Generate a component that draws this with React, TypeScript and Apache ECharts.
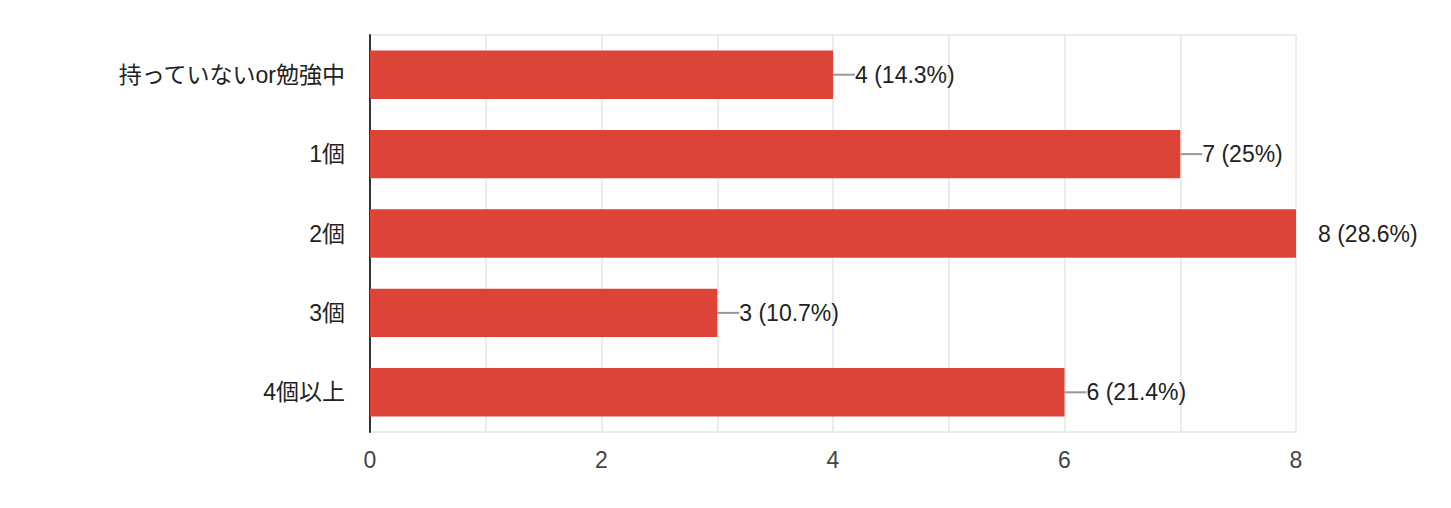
import React, { useEffect, useRef } from "react";
import * as echarts from "echarts";

const categories = ["持っていないor勉強中", "1個", "2個", "3個", "4個以上"];
const counts = [4, 7, 8, 3, 6];
const percents = ["14.3%", "25%", "28.6%", "10.7%", "21.4%"];
const xTicks = [0, 2, 4, 6, 8];

const FONT = '"Liberation Sans", Arial, "Noto Sans CJK JP", sans-serif';

export default function App() {
  const ref = useRef<HTMLDivElement>(null);
  useEffect(() => {
    if (!ref.current) return;
    const chart = echarts.init(ref.current, undefined, { renderer: "svg" });
    const maxVal = Math.max(...counts);
    chart.setOption({
      animation: false,
      grid: {
        left: 370,
        right: 155,
        top: 35,
        bottom: 76,
        containLabel: false,
        show: true,
        borderColor: "#ececec",
        borderWidth: 2,
      },
      xAxis: {
        type: "value",
        min: 0,
        max: 8,
        interval: 1,
        axisLine: { show: false },
        axisTick: { show: false },
        splitLine: { show: true, lineStyle: { color: "#ececec", width: 2 } },
        axisLabel: {
          fontFamily: FONT,
          fontSize: 23,
          color: "#444",
          margin: 16,
          formatter: (v: number) => (xTicks.includes(v) ? String(v) : ""),
        },
      },
      yAxis: {
        type: "category",
        data: categories,
        inverse: true,
        axisLine: { show: true, lineStyle: { color: "#333", width: 2 } },
        axisTick: { show: false },
        splitLine: { show: false },
        axisLabel: { fontFamily: FONT, fontSize: 23, color: "#222", margin: 25 },
      },
      series: [
        {
          type: "bar",
          barCategoryGap: "39%",
          data: counts.map((v) => ({
            value: v,
            label: {
              rich: {
                l: {
                  width: 22,
                  height: 2,
                  backgroundColor: v === maxVal ? "transparent" : "#999",
                },
              },
            },
          })),
          itemStyle: { color: "#DB4437" },
          label: {
            show: true,
            position: "right",
            distance: 0,
            formatter: (p: any) =>
              `{l|}{t|${counts[p.dataIndex]} (${percents[p.dataIndex]})}`,
            rich: {
              t: { fontFamily: FONT, fontSize: 23, color: "#222" },
            },
          },
        },
      ],
    });
    return () => chart.dispose();
  }, []);
  return (
    <div
      ref={ref}
      style={{ position: "absolute", left: 0, top: 0, width: 1451, height: 508, background: "#fff" }}
    />
  );
}
